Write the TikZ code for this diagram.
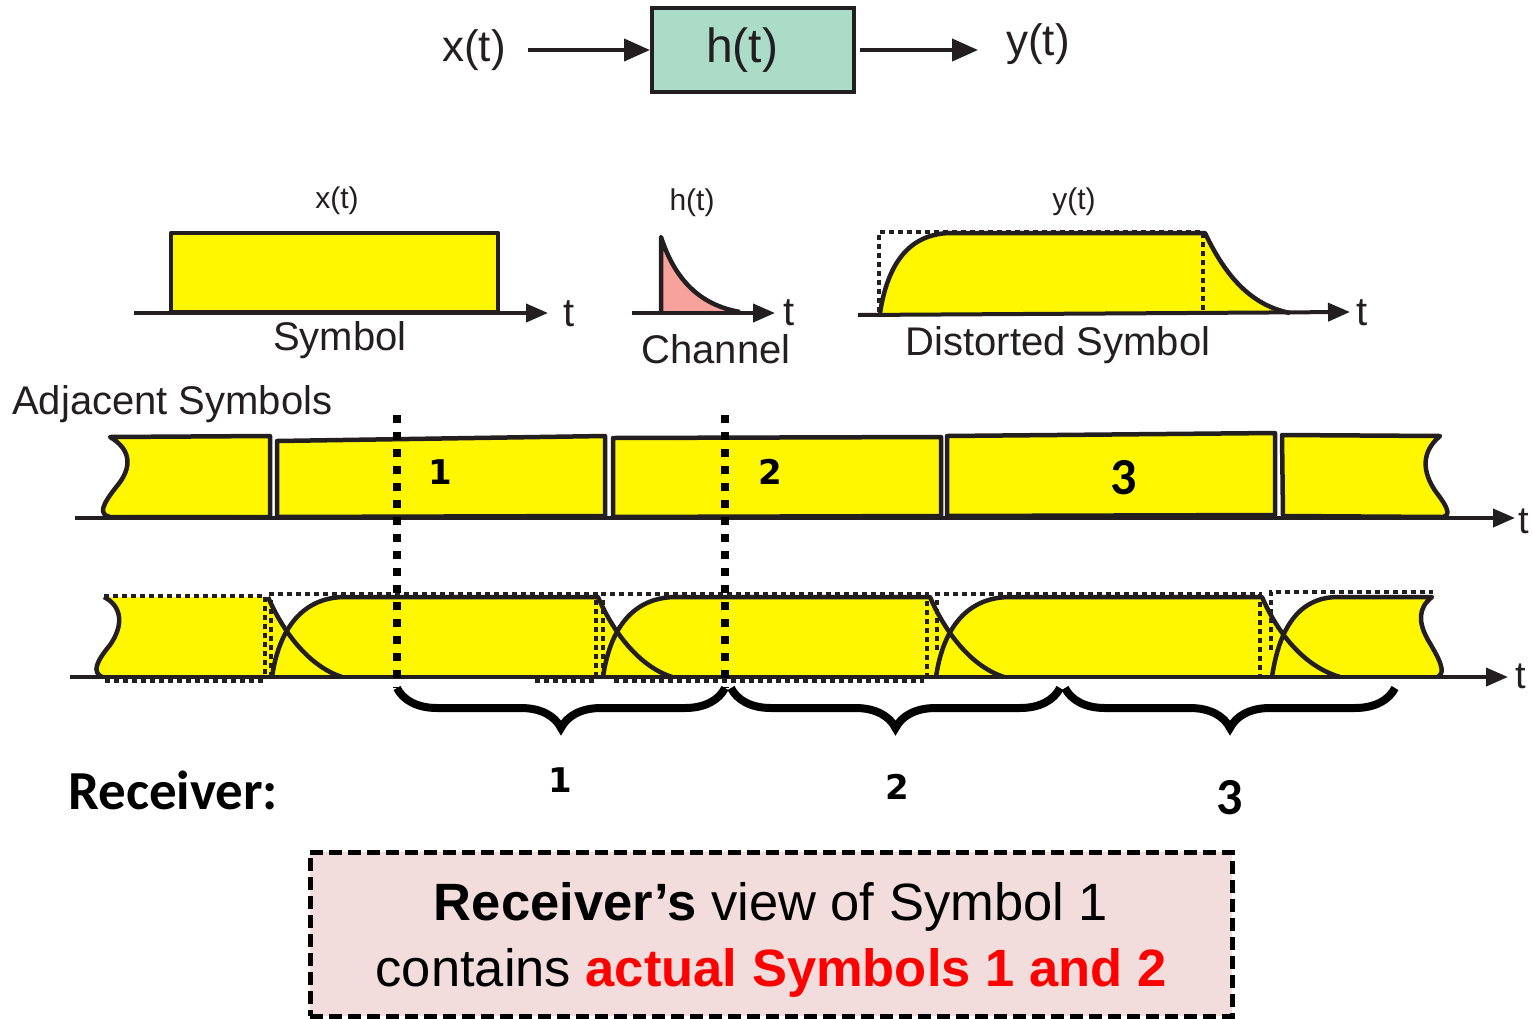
\documentclass[tikz,border=0pt]{standalone}
\usepackage{fontspec}
\setmainfont{Liberation Sans}
\newfontfamily\carl{Carlito}
\newfontfamily\dvs{DejaVu Sans}
\usetikzlibrary{arrows.meta,decorations.pathreplacing}
\definecolor{symyellow}{RGB}{255,247,0}
\definecolor{boxteal}{RGB}{170,220,200}
\definecolor{chpink}{RGB}{248,162,156}
\definecolor{notebg}{RGB}{242,220,220}
\definecolor{ink}{RGB}{35,31,32}
\definecolor{hired}{RGB}{255,0,0}
\newcommand\fsTop{\fontsize{44}{50}\selectfont}
\newcommand\fsSm{\fontsize{30}{36}\selectfont}
\newcommand\fsMid{\fontsize{40}{46}\selectfont}
\newcommand\fsNote{\fontsize{52.5}{66}\selectfont}
\begin{document}
\begin{tikzpicture}[x=1pt,y=-1pt,
  sig/.style={draw=ink,line width=4.5pt,fill=symyellow,line join=round},
  curve/.style={draw=ink,line width=4.5pt,line join=round},
  axis/.style={draw=ink,line width=4pt,-{Triangle[length=22pt,width=18pt]}},
  arrT/.style={draw=ink,line width=4pt,-{Triangle[length=26pt,width=22pt]}},
  dotln/.style={draw=ink,line width=4.5pt,dash pattern=on 5pt off 4pt},
  bigdot/.style={draw=black,line width=7.5pt,dash pattern=on 8pt off 9pt},
  brc/.style={draw=black,line width=8pt,decorate,decoration={brace,mirror,amplitude=40pt}},
  lbl/.style={inner sep=0pt,text=ink},
]
\useasboundingbox (0,0) rectangle (1532,1018);

% ---------- top block diagram ----------
\node[lbl,font=\fsTop] (xin) at (474,50) {x(t)};
\node[draw=ink,line width=4pt,fill=boxteal,minimum width=202pt,minimum height=84pt,inner sep=0pt] (hbox) at (753,50) {};
\node[lbl,font=\fontsize{48}{54}\selectfont] (htxt) at (742,50) {h(t)};
\node[lbl,font=\fsTop] (yout) at (1038,44) {y(t)};
\draw[arrT] ([xshift=22pt]xin.east) -- (hbox.west);
\draw[arrT] ([xshift=4pt]hbox.east) -- ([xshift=-28pt]yout.west |- hbox.east);

% ---------- x(t) symbol ----------
\node[lbl,font=\fsSm] (xlab) at (337,201) {x(t)};
\draw[sig] (171,233) rectangle (498,312);
\draw[axis] (134,313) -- (548,313);
\node[lbl,font=\fsMid] (t1) at (569,314) {t};
\node[lbl,font=\fsMid] (symlab) at (340,340) {Symbol};

% ---------- h(t) channel ----------
\node[lbl,font=\fsSm] (hlab) at (692,203) {h(t)};
\fill[chpink] (661,237) .. controls (675,280) and (700,305) .. (740,312) -- (661,312) -- cycle;
\draw[curve] (661,313) -- (661,237) .. controls (675,280) and (700,305) .. (740,312);
\draw[axis] (632,313) -- (775,313);
\node[lbl,font=\fsMid] (t2) at (789,313) {t};
\node[lbl,font=\fsMid] (chlab) at (716,349) {Channel};

% ---------- y(t) distorted ----------
\node[lbl,font=\fsSm] (ylab) at (1074,202) {y(t)};
\fill[symyellow] (880,313) .. controls (888,262) and (910,234) .. (950,233) -- (1205,233) .. controls (1225,275) and (1250,305) .. (1290,313) -- cycle;
\draw[dotln] (879,312) -- (879,232) -- (1203,232) -- (1203,312);
\draw[curve] (880,313) .. controls (888,262) and (910,234) .. (950,233) -- (1205,233) .. controls (1225,275) and (1250,305) .. (1290,313);
\draw[axis] (858,315) -- (1350,312);
\node[lbl,font=\fsMid] (t3) at (1362,313) {t};
\node[lbl,font=\fsMid] (dslab) at (1058,345) {Distorted Symbol};

\node[lbl,font=\fsMid,anchor=west] (adj) at (12,404) {Adjacent Symbols};

% ---------- adjacent symbols ----------
\draw[sig] (270,436) -- (110,437) .. controls (132,450) and (132,468) .. (117,486) .. controls (102,505) and (98,514) .. (110,517) -- (270,517) -- cycle;
\draw[sig] (277,441) -- (605,436) -- (605,516) -- (277,517) -- cycle;
\draw[sig] (613,438) -- (941,437) -- (941,516) -- (613,517) -- cycle;
\draw[sig] (947,436) -- (1275,433) -- (1275,515) -- (947,516) -- cycle;
\draw[sig] (1282,435) -- (1440,436) .. controls (1421,452) and (1422,472) .. (1436,492) .. controls (1450,510) and (1450,516) .. (1442,517) -- (1283,516) -- cycle;
\draw[axis] (75,518) -- (1515,518);
\node[lbl,font=\fontsize{38}{44}\selectfont] (t4) at (1524,521) {t};
\node[inner sep=0pt,text=black,font=\dvs\bfseries\fontsize{34}{40}\selectfont] (n1) at (440,472) {1};
\node[inner sep=0pt,text=black,font=\dvs\bfseries\fontsize{34}{40}\selectfont] (n2) at (770,472) {2};
\node[inner sep=0pt,text=black,font=\carl\bfseries\fontsize{52}{58}\selectfont] (n3) at (1124,478) {3};

% ---------- distorted adjacent symbols ----------
\fill[symyellow] (104,597) .. controls (122,606) and (124,625) .. (110,645) .. controls (96,662) and (92,672) .. (102,677) -- (342,677) .. controls (305,665) and (280,625) .. (268,597) -- cycle;
\fill[symyellow] (272,677) .. controls (280,622) and (308,597) .. (345,597) -- (598,597) .. controls (610,625) and (635,665) .. (672,677) -- cycle;
\fill[symyellow] (603,677) .. controls (611,622) and (638,597) .. (676,597) -- (930,597) .. controls (942,625) and (967,665) .. (1004,677) -- cycle;
\fill[symyellow] (936,677) .. controls (944,622) and (972,597) .. (1010,597) -- (1262,597) .. controls (1274,625) and (1299,665) .. (1340,677) -- cycle;
\fill[symyellow] (1272,677) .. controls (1280,622) and (1303,597) .. (1338,597) -- (1432,597) .. controls (1418,608) and (1418,622) .. (1428,640) .. controls (1440,660) and (1446,672) .. (1438,677) -- cycle;
% dotted outlines
\draw[dotln] (104,596) -- (265,596) -- (265,677);
\draw[dotln] (271,677) -- (271,594) -- (596,594) -- (596,677);
\draw[dotln] (603,677) -- (603,594) -- (927,594) -- (927,677);
\draw[dotln] (937,650) -- (937,594) -- (1260,594) -- (1260,677);
\draw[dotln] (1271,650) -- (1271,592) -- (1433,592);
\draw[dotln] (105,681) -- (266,681);
\draw[dotln] (535,681) -- (596,681);
\draw[dotln] (614,681) -- (924,681);
% solid outlines
\draw[curve] (104,597) .. controls (122,606) and (124,625) .. (110,645) .. controls (96,662) and (92,672) .. (102,677);
\draw[curve] (268,597) .. controls (280,625) and (305,665) .. (342,677);
\draw[curve] (272,677) .. controls (280,622) and (308,597) .. (345,597) -- (598,597) .. controls (610,625) and (635,665) .. (672,677);
\draw[curve] (603,677) .. controls (611,622) and (638,597) .. (676,597) -- (930,597) .. controls (942,625) and (967,665) .. (1004,677);
\draw[curve] (936,677) .. controls (944,622) and (972,597) .. (1010,597) -- (1262,597) .. controls (1274,625) and (1299,665) .. (1340,677);
\draw[curve] (1272,677) .. controls (1280,622) and (1303,597) .. (1338,597) -- (1432,597) .. controls (1418,608) and (1418,622) .. (1428,640) .. controls (1440,660) and (1446,672) .. (1438,677);
\draw[axis] (70,677) -- (1508,677);
\node[lbl,font=\fontsize{38}{44}\selectfont] (t5) at (1521,676) {t};

% ---------- receiver windows ----------
\draw[bigdot] (397,415) -- (397,688);
\draw[bigdot] (725,415) -- (725,688);
\draw[brc] (397,688) -- (725,688);
\draw[brc] (731,688) -- (1060,688);
\draw[brc] (1065,688) -- (1395,688);

\node[inner sep=0pt,anchor=west,text=black,font=\carl\bfseries\fontsize{55}{60}\selectfont] (rcv) at (68,790) {Receiver:};
\node[inner sep=0pt,text=black,font=\dvs\bfseries\fontsize{34}{40}\selectfont] (r1) at (560,780) {1};
\node[inner sep=0pt,text=black,font=\dvs\bfseries\fontsize{34}{40}\selectfont] (r2) at (897,787) {2};
\node[inner sep=0pt,text=black,font=\carl\bfseries\fontsize{52}{58}\selectfont] (r3) at (1230,798) {3};

% ---------- note ----------
\node[draw=black,line width=5pt,dash pattern=on 13pt off 6pt,fill=notebg,minimum width=922pt,minimum height=164pt,inner sep=0pt] (note) at (771,934) {};
\node[inner sep=0pt,align=center,text=black,font=\fsNote] (notetxt) at (771,940)
  {{\bfseries Receiver’s} view of Symbol 1\\contains {\bfseries\color{hired}actual Symbols 1 and 2}};
\end{tikzpicture}
\end{document}
